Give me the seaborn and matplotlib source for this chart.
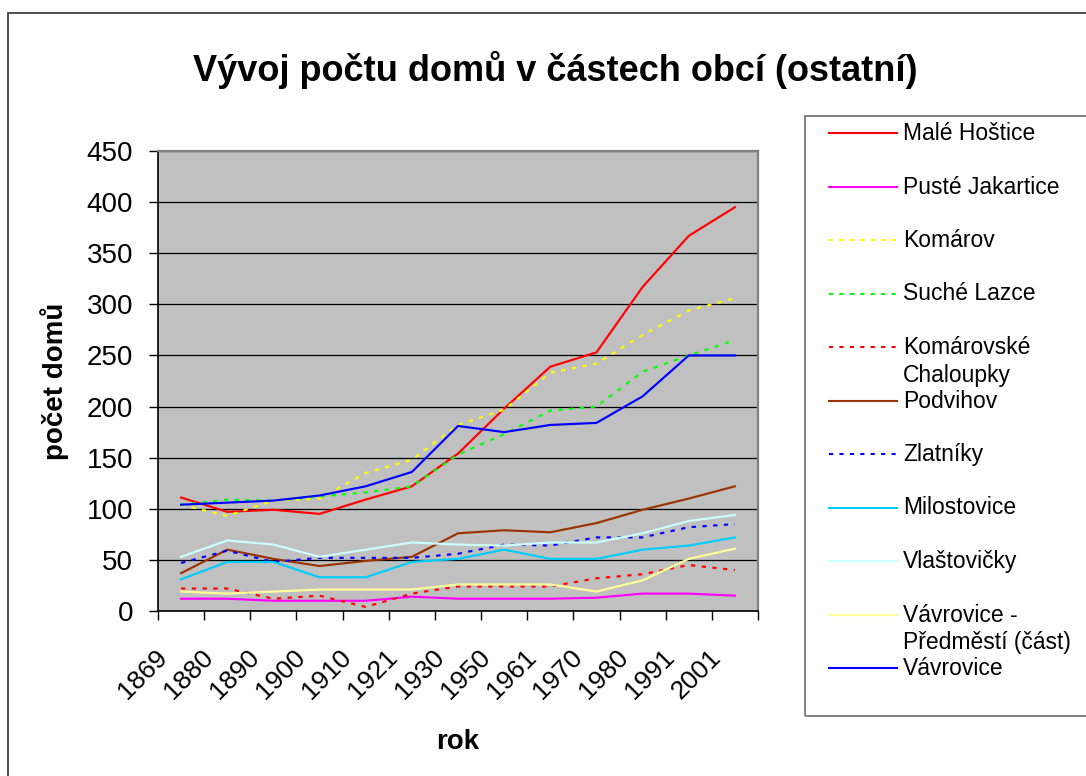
import numpy as np
import pandas as pd
import matplotlib
matplotlib.use("Agg")
import matplotlib.pyplot as plt
from matplotlib.lines import Line2D
from matplotlib.patches import Rectangle
from matplotlib.transforms import ScaledTranslation
import seaborn as sns

# ---- data -------------------------------------------------------------
roky = ["1869", "1880", "1890", "1900", "1910", "1921", "1930",
        "1950", "1961", "1970", "1980", "1991", "2001"]

male_hostice = [111, 97, 99, 95, 109, 122, 154, 198, 239, 253, 317, 367, 395]
puste_jakartice = [12, 12, 10, 10, 10, 14, 12, 12, 12, 13, 17, 17, 15]
komarov = [104, 93, 108, 110, 135, 148, 182, 197, 233, 242, 270, 294, 306]
suche_lazce = [104, 109, 108, 112, 116, 122, 153, 173, 196, 200, 234, 250, 265]
komarovske_chaloupky = [22, 22, 12, 15, 4, 17, 24, 24, 24, 32, 36, 45, 40]
podvihov = [37, 60, 51, 44, 49, 53, 76, 79, 77, 86, 99, 110, 122]
zlatniky = [47, 59, 48, 52, 52, 52, 56, 65, 64, 72, 72, 82, 85]
milostovice = [31, 48, 48, 33, 33, 48, 51, 60, 51, 51, 60, 64, 72]
vlastovicky = [53, 69, 65, 53, 60, 67, 65, 64, 67, 67, 76, 88, 94]
vavrovice_predmesti = [19, 17, 19, 21, 21, 21, 26, 26, 26, 19, 30, 51, 61]
vavrovice = [104, 106, 108, 113, 122, 136, 181, 175, 182, 184, 210, 250, 250]

nazvy = ["Malé Hoštice", "Pusté Jakartice", "Komárov", "Suché Lazce",
         "Komárovské Chaloupky", "Podvihov", "Zlatníky", "Milostovice",
         "Vlaštovičky", "Vávrovice - Předměstí (část)", "Vávrovice"]
popisky = ["Malé Hoštice", "Pusté Jakartice", "Komárov", "Suché Lazce",
           "Komárovské\nChaloupky", "Podvihov", "Zlatníky", "Milostovice",
           "Vlaštovičky", "Vávrovice -\nPředměstí (část)", "Vávrovice"]
hodnoty = [male_hostice, puste_jakartice, komarov, suche_lazce,
           komarovske_chaloupky, podvihov, zlatniky, milostovice,
           vlastovicky, vavrovice_predmesti, vavrovice]

barvy = ["#FF0000", "#FF00FF", "#FFFF00", "#00FF00", "#FF0000", "#993300",
         "#0000FF", "#00CCFF", "#CCFFFF", "#FFFF99", "#0000FF"]
teckovane = [False, False, True, True, True, False, True, False, False,
             False, False]

# ---- long table for seaborn ------------------------------------------
df = pd.DataFrame({
    "cast": np.repeat(nazvy, len(roky)),
    "poz": np.tile(np.arange(len(roky)), len(nazvy)),
    "domy": np.concatenate(hodnoty),
})
paleta = dict(zip(nazvy, barvy))
DOT = (2, 3)
carky = {n: (DOT if t else "") for n, t in zip(nazvy, teckovane)}

plt.rcParams["font.family"] = ["Liberation Sans", "DejaVu Sans"]

W, H = 1086, 776
fig = plt.figure(figsize=(W / 100, H / 100), dpi=100)


def fx(px):
    return px / W


def fy(py):
    return 1 - py / H


ax = fig.add_axes([fx(158), fy(611), (758 - 158) / W, (611 - 151) / H])
ax.set_facecolor("#C0C0C0")
ax.set_axisbelow(True)

sns.lineplot(data=df, x="poz", y="domy", hue="cast", style="cast",
             hue_order=nazvy, style_order=nazvy, palette=paleta,
             dashes=carky, linewidth=1.55, legend=False, errorbar=None,
             sort=False, ax=ax)

# ---- axes -------------------------------------------------------------
ax.set_xlim(-0.5, len(roky) - 0.5)
ax.set_ylim(0, 450)
ax.set_yticks(range(0, 451, 50))
ax.yaxis.grid(True, color="black", linewidth=0.9)
ax.xaxis.grid(False)

ax.set_xticks(np.arange(len(roky)))
ax.set_xticklabels(roky)
ax.set_xticks(np.arange(-0.5, len(roky), 1.0), minor=True)
ax.tick_params(axis="x", which="major", length=0, pad=34.5)
ax.tick_params(axis="x", which="minor", length=6.5, width=1.0,
               color="black", direction="out")
ax.tick_params(axis="y", length=6.5, width=1.0, color="black",
               direction="out", pad=11.5, labelsize=20)

for spine in ("left", "bottom"):
    ax.spines[spine].set_color("black")
    ax.spines[spine].set_linewidth(1.2)
for spine in ("top", "right"):
    ax.spines[spine].set_color("#808080")
    ax.spines[spine].set_linewidth(1.6)

posun = ScaledTranslation(-13 / 100, 0, fig.dpi_scale_trans)
for lab in ax.get_xticklabels():
    lab.set_rotation(45)
    lab.set_rotation_mode("anchor")
    lab.set_ha("right")
    lab.set_va("baseline")
    lab.set_fontsize(19)
    lab.set_transform(lab.get_transform() + posun)

ax.set_ylabel("počet domů", fontsize=20, fontweight="bold")
ax.yaxis.set_label_coords(-0.148, 0.5)
ax.set_xlabel("rok", fontsize=20, fontweight="bold")
ax.xaxis.set_label_coords(0.5, -0.256)

fig.text(fx(555), fy(81), "Vývoj počtu domů v částech obcí (ostatní)",
         ha="center", va="baseline", fontsize=26, fontweight="bold")

# ---- chart frame and legend ---------------------------------------------
fig.add_artist(Rectangle((fx(8), -0.05), 1.2, fy(13) + 0.05,
                         transform=fig.transFigure, fill=False,
                         edgecolor="#303030", linewidth=1.2))
fig.add_artist(Rectangle((fx(805), fy(716)), 1.0, (716 - 116) / H,
                         transform=fig.transFigure, fill=False,
                         edgecolor="#808080", linewidth=1.4))

for i, (text, barva, tecky) in enumerate(zip(popisky, barvy, teckovane)):
    y = 133 + 53.5 * i
    vzorek = Line2D([fx(829), fx(897)], [fy(y), fy(y)],
                    transform=fig.transFigure, color=barva, linewidth=1.5)
    if tecky:
        vzorek.set_dashes(DOT)
    fig.add_artist(vzorek)
    for k, radek in enumerate(text.split("\n")):
        fig.text(fx(903), fy(y + 7 + 28 * k), radek, ha="left",
                 va="baseline", fontsize=16.5)

fig.savefig("out.png", dpi=100)
